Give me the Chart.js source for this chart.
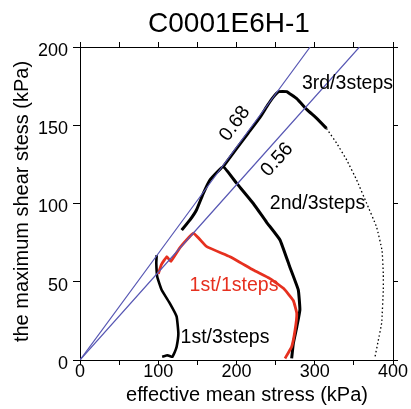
<!DOCTYPE html>
<html>
<head>
<meta charset="utf-8">
<script src="https://cdn.jsdelivr.net/npm/chart.js@4/dist/chart.umd.min.js"></script>
<style>
  html, body { margin: 0; padding: 0; background: #fff; }
  #wrap { width: 411px; height: 409px; }
</style>
</head>
<body>
<div id="wrap"><canvas id="chartArea"></canvas></div>
<script>
// stress path data (kPa)
const step1X = [105, 112, 118, 121, 123.5, 125.7, 123.5, 115, 104.4, 98.8, 97.5, 98];
const step1Y = [2, 3, 2, 5, 8.5, 17, 27.7, 36, 44.7, 53, 62, 67];

const step2X = [130, 140.6, 149, 157.6, 166, 183, 200, 221.5, 238.5, 255.6, 268, 279, 281, 277, 272.6, 270.5];
const step2Y = [83, 89.5, 96, 106.5, 115, 123.5, 113, 100, 88, 76.7, 59.6, 44.7, 32, 21, 10.6, 1];

const step3X = [183, 200, 215, 230, 240, 247, 254, 264, 277, 290, 302.5, 315];
const step3Y = [123.5, 135, 145, 155, 163, 168, 171.5, 171.5, 167, 160, 154.4, 148];

const step3TailX = [315, 328, 340.8, 353.6, 366.4, 379, 386, 387.6, 387.6, 385.5, 381, 377];
const step3TailY = [148, 138.5, 127.8, 115, 100, 85, 70, 55, 44.7, 23.6, 12, 2];

const single1X = [100, 104, 111, 116, 128, 145, 162, 191.7, 221.5, 242.8, 260, 272.6, 277, 274.8, 270.5, 262];
const single1Y = [55, 61, 66, 63, 72, 81, 72.4, 66, 57.5, 52, 45.8, 38, 29.8, 19, 8.5, 1];

// failure lines through the origin
const slopes = [0.68, 0.56];

const xTicks = [0, 50, 100, 150, 200, 250, 300, 350, 400];
const yTicks = [0, 50, 100, 150, 200];

const pts = (xs, ys) => xs.map((x, i) => ({ x: x, y: ys[i] }));
const lineTo = (k) => [{ x: 0, y: 0 }, { x: 200 / k, y: 200 }];

const FONT = '"Liberation Sans", Arial, Helvetica, sans-serif';

// titles and in-plot labels
const textPlugin = {
    id: 'texts',
    afterDraw(chart) {
        const c = chart.ctx;
        const xs = chart.scales.x, ys = chart.scales.y;
        const o = chart.options.plugins.texts;
        c.save();
        c.fillStyle = '#000';
        c.textBaseline = 'alphabetic';
        c.textAlign = 'center';
        c.font = '28px ' + FONT;
        c.fillText(o.title, 229, 32);
        c.font = '20px ' + FONT;
        c.fillText(o.xTitle, 247, 401);
        c.save();
        c.translate(28, 201.5);
        c.rotate(-Math.PI / 2);
        c.fillText(o.yTitle, 0, 0);
        c.restore();

        c.font = '19.5px ' + FONT;
        c.textBaseline = 'middle';
        o.labels.forEach(l => {
            c.save();
            c.translate(xs.getPixelForValue(l.x), ys.getPixelForValue(l.y));
            c.rotate((l.rot || 0) * Math.PI / 180);
            c.fillStyle = l.color || '#000';
            c.fillText(l.text, 0, 0);
            c.restore();
        });
        c.restore();
    }
};

const black = '#000';
const red = '#e6301f';
const blue = 'rgb(88, 88, 180)';

const pathSet = (data, color, width, dash) => ({
    data: data,
    showLine: true,
    borderColor: color,
    borderWidth: width,
    borderDash: dash || [],
    pointRadius: 0,
    fill: false,
    tension: 0.1
});

// shared look of the box edges with outward ticks
const edge = (len) => ({
    grid: { display: true, drawOnChartArea: false, drawTicks: true, tickLength: len, color: '#000', lineWidth: 1 },
    border: { display: true, color: '#000', width: 1 }
});

const ctx = document.getElementById('chartArea').getContext('2d');
new Chart(ctx, {
    type: 'scatter',
    data: {
        datasets: [
            pathSet(lineTo(slopes[0]), blue, 1.2),
            pathSet(lineTo(slopes[1]), blue, 1.2),
            pathSet(pts(single1X, single1Y), red, 2.8),
            pathSet(pts(step1X, step1Y), black, 2.6),
            pathSet(pts(step2X, step2Y), black, 3),
            pathSet(pts(step3X, step3Y), black, 3),
            pathSet(pts(step3TailX, step3TailY), black, 1.3, [1.5, 2.5])
        ]
    },
    options: {
        responsive: true,
        maintainAspectRatio: false,
        animation: false,
        layout: { padding: { left: 0, right: 18, top: 47, bottom: 0 } },
        plugins: {
            legend: { display: false },
            tooltip: { enabled: false },
            title: { display: false },
            texts: {
                title: 'C0001E6H-1',
                xTitle: 'effective mean stress (kPa)',
                yTitle: 'the maximum shear stess (kPa)',
                labels: [
                    { text: '0.68', x: 198, y: 151, rot: -53.7 },
                    { text: '0.56', x: 252, y: 128, rot: -48.2 },
                    { text: '3rd/3steps', x: 341.8, y: 176.4 },
                    { text: '2nd/3steps', x: 303.5, y: 99.7 },
                    { text: '1st/1steps', x: 196.8, y: 47.6, color: red },
                    { text: '1st/3steps', x: 185.3, y: 14.4 }
                ]
            }
        },
        scales: {
            x: {
                type: 'linear',
                position: 'bottom',
                min: 0, max: 400,
                afterBuildTicks: (s) => { s.ticks = xTicks.map(v => ({ value: v })); },
                afterFit: (s) => { s.height = 49; },
                ...edge(5),
                ticks: {
                    color: '#000', padding: -4, maxRotation: 0, autoSkip: false,
                    font: { family: FONT, size: 18 },
                    callback: (v) => (v % 100 === 0 ? String(v) : '')
                }
            },
            x2: {
                type: 'linear',
                position: 'top',
                min: 0, max: 400,
                afterBuildTicks: (s) => { s.ticks = xTicks.map(v => ({ value: v })); },
                afterFit: (s) => { s.height = 0; },
                ...edge(5),
                ticks: { display: false }
            },
            y: {
                type: 'linear',
                position: 'left',
                min: 0, max: 200,
                afterBuildTicks: (s) => { s.ticks = yTicks.map(v => ({ value: v })); },
                afterFit: (s) => { s.width = 80; },
                ...edge(7),
                ticks: { color: '#000', padding: 5, labelOffset: 4, font: { family: FONT, size: 18 } }
            },
            y2: {
                type: 'linear',
                position: 'right',
                min: 0, max: 200,
                afterBuildTicks: (s) => { s.ticks = yTicks.map(v => ({ value: v })); },
                afterFit: (s) => { s.width = 0; },
                ...edge(5),
                ticks: { display: false }
            }
        }
    },
    plugins: [textPlugin]
});
</script>
</body>
</html>
